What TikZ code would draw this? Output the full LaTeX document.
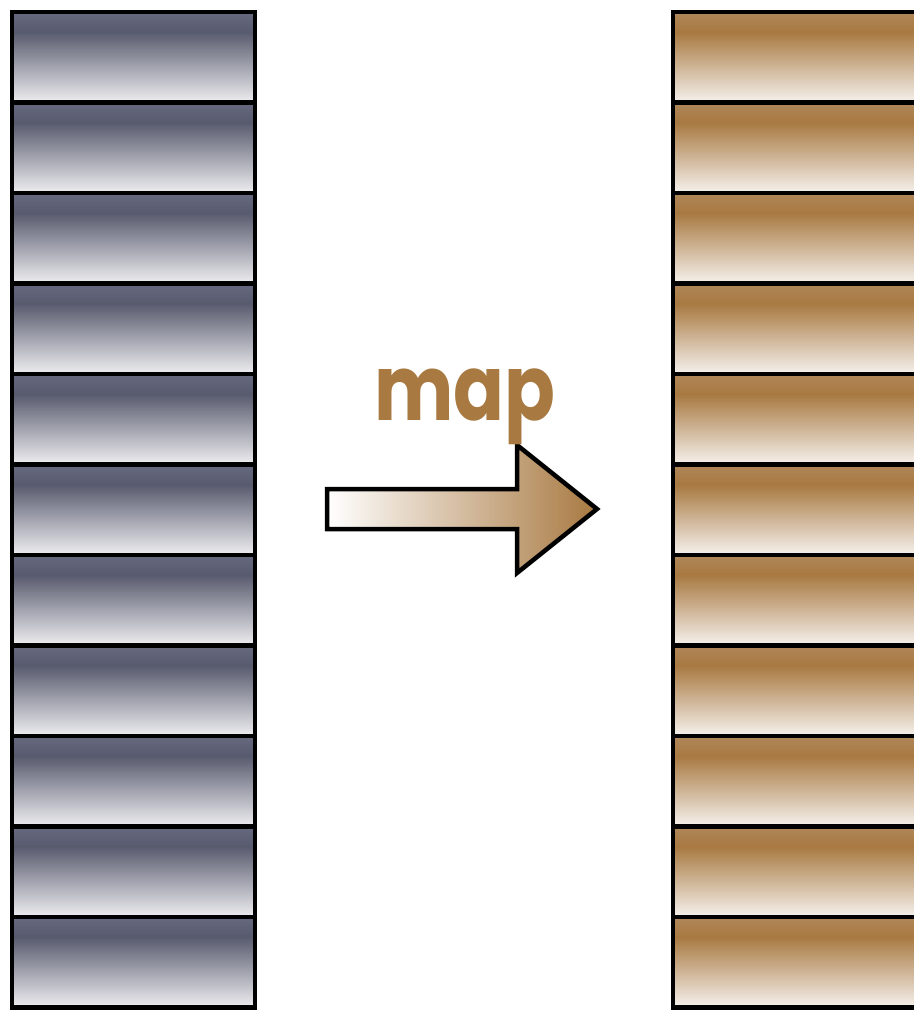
\documentclass[tikz,border=0pt]{standalone}
\usepackage{fontspec}
\newfontfamily\mapfont{Poppins}
\definecolor{slate}{HTML}{585A6E}
\definecolor{slatetop}{HTML}{676980}
\definecolor{slatelow}{HTML}{EFEFF1}
\definecolor{tan}{HTML}{A87941}
\definecolor{tantop}{HTML}{B0875A}
\definecolor{tanlow}{HTML}{F6F2EE}
\pgfdeclareverticalshading{slaterow}{100bp}{color(0bp)=(slatelow); color(25bp)=(slatelow); color(64bp)=(slate); color(75bp)=(slatetop); color(100bp)=(slatetop)}
\pgfdeclareverticalshading{tanrow}{100bp}{color(0bp)=(tanlow); color(25bp)=(tanlow); color(64bp)=(tan); color(75bp)=(tantop); color(100bp)=(tantop)}
\tikzset{
  cell/.style={draw,line width=.9mm,minimum width=48.6mm,minimum height=18.1mm,inner sep=0pt},
  srccell/.style={cell,shading=slaterow},
  dstcell/.style={cell,shading=tanrow,minimum width=51.4mm}
}

\begin{document}
\begin{tikzpicture}[x=.2mm,y=-.2mm]
\useasboundingbox (0,0) rectangle (914,1010);
\foreach \i in {0,...,10}{
\node[srccell] (src\i) at (133.5,{57.25+90.5*\i}) {};
\node[dstcell] (dst\i) at (801.5,{57.25+90.5*\i}) {};}
\draw[line width=.9mm,left color=white,right color=tan] (327,489)--(517,489)--(517,445)--(597,509)--(517,573)--(517,529)--(327,529)--cycle;
\node[anchor=base,text=tan,font=\mapfont\bfseries\fontsize{52}{52}\selectfont,xscale=.82,inner sep=0pt] (maplabel) at (465,420) {map};
\end{tikzpicture}
\end{document}
